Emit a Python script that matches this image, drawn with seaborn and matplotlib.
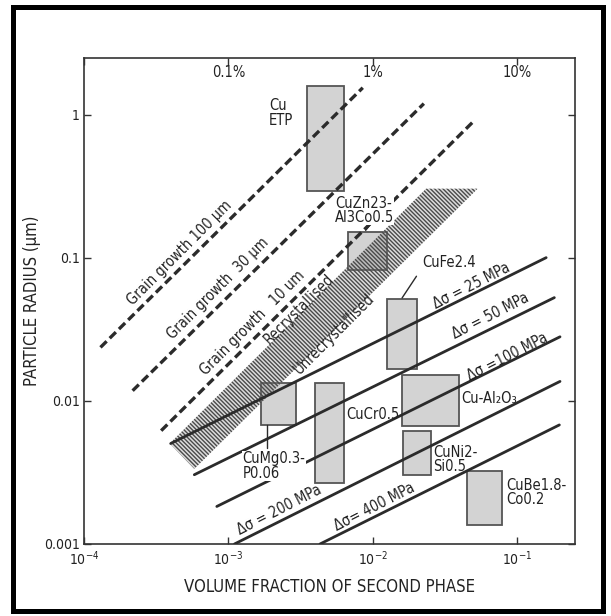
import matplotlib
matplotlib.use("Agg")
import matplotlib.pyplot as plt
from matplotlib.patches import Rectangle, Polygon
import pandas as pd
import seaborn as sns

# Orowan strengthening lines: stress increment (MPa) and line end points (f, r)
stress_mpa = [25, 50, 100, 200, 400]
stress_f0 = [3.98e-4, 5.8e-4, 8.3e-4, 1.1e-3, 4.3e-3]
stress_r0 = [0.00504, 0.00305, 0.00183, 0.001, 0.001]
stress_f1 = [0.158, 0.18, 0.197, 0.197, 0.195]
stress_r1 = [0.1005, 0.0528, 0.0281, 0.0137, 0.0068]

# Zener-type grain growth limits (grain size in µm)
grain_um = [100, 30, 10]
grain_f0 = [1.3e-4, 2.17e-4, 3.42e-4]
grain_r0 = [0.0237, 0.0118, 0.0062]
grain_f1 = [8.5e-3, 0.0225, 0.049]
grain_r1 = [1.55, 1.2, 0.89]

# recrystallised / unrecrystallised transition band
band_f = [3.92e-4, 0.0233, 0.053, 5.8e-4]
band_r = [0.00504, 0.305, 0.305, 0.00335]

# copper alloys: ranges of volume fraction and particle radius
alloys = ["Cu\nETP", "CuZn23-\nAl3Co0.5", "CuFe2.4", "CuMg0.3-\nP0.06",
          "CuCr0.5", "Cu-Al₂O₃", "CuNi2-\nSi0.5", "CuBe1.8-\nCo0.2"]
alloy_f_lo = [3.47e-3, 6.68e-3, 0.0126, 1.67e-3, 3.96e-3, 0.016, 0.0162, 0.0448]
alloy_f_hi = [6.35e-3, 0.0126, 0.0203, 2.94e-3, 6.35e-3, 0.0396, 0.0254, 0.0783]
alloy_r_lo = [0.292, 0.0822, 0.0168, 0.00681, 0.00266, 0.00673, 0.00306, 0.00135]
alloy_r_hi = [1.6, 0.152, 0.0518, 0.0133, 0.0133, 0.0151, 0.00619, 0.00325]

x_ticks = [1e-4, 1e-3, 1e-2, 1e-1]
x_ticklabels = ["$10^{-4}$", "$10^{-3}$", "$10^{-2}$", "$10^{-1}$"]
y_ticks = [0.001, 0.01, 0.1, 1]
y_ticklabels = ["0.001", "0.01", "0.1", "1"]
pct_ticks = [1e-3, 1e-2, 1e-1]
pct_labels = ["0.1%", "1%", "10%"]

sns.set_style("ticks")
plt.rcParams["font.family"] = ["DejaVu Sans"]
plt.rcParams["font.stretch"] = "condensed"
plt.rcParams["mathtext.fontset"] = "dejavusans"
plt.rcParams["hatch.linewidth"] = 1.0

fig = plt.figure(figsize=(6.11, 6.16), dpi=100)
ax = fig.add_axes([0.1375, 0.1169, 0.8035, 0.7889])
ax.set(xscale="log", yscale="log", xlim=(1e-4, 0.25), ylim=(0.001, 2.5))

ink = "#2b2b2b"
txt = "#222222"

# alloy boxes
for fl, fh, rl, rh in zip(alloy_f_lo, alloy_f_hi, alloy_r_lo, alloy_r_hi):
    ax.add_patch(Rectangle((fl, rl), fh - fl, rh - rl, facecolor="#d3d3d3",
                           edgecolor="#555555", lw=1.3, zorder=1))

# hatched transition band
ax.add_patch(Polygon(list(zip(band_f, band_r)), closed=True,
                     facecolor=(0.55, 0.55, 0.55, 0.3), edgecolor="#4a4a4a",
                     lw=0, hatch="\\\\\\\\\\\\\\\\", zorder=2))

# grain growth limits (dashed)
grain_df = pd.DataFrame({
    "f": [v for pair in zip(grain_f0, grain_f1) for v in pair],
    "r": [v for pair in zip(grain_r0, grain_r1) for v in pair],
    "line": [g for g in grain_um for _ in range(2)],
})
sns.lineplot(data=grain_df, x="f", y="r", units="line", estimator=None,
             color=ink, lw=2.4, ax=ax, zorder=3)
for line in ax.lines:
    line.set_dashes([2.6, 1.3])

# Orowan stress lines (solid)
stress_df = pd.DataFrame({
    "f": [v for pair in zip(stress_f0, stress_f1) for v in pair],
    "r": [v for pair in zip(stress_r0, stress_r1) for v in pair],
    "line": [s for s in stress_mpa for _ in range(2)],
})
sns.lineplot(data=stress_df, x="f", y="r", units="line", estimator=None,
             color=ink, lw=2.0, ax=ax, zorder=3)

# leader lines from labels to boxes
ax.plot([0.0098, 0.0089], [0.176, 0.156], color=ink, lw=1.0, zorder=3)
ax.plot([0.0200, 0.0159], [0.0745, 0.0525], color=ink, lw=1.0, zorder=3)
ax.plot([1.86e-3, 1.86e-3], [0.00681, 0.0047], color=ink, lw=1.0, zorder=3)

# alloy labels (some sit on a white patch that interrupts the lines behind)
label_pos = [(1.9e-3, 1.03), (5.45e-3, 0.215), (0.0219, 0.0927), (1.25e-3, 0.0035),
             (6.5e-3, 0.00806), (0.0408, 0.0104), (0.0261, 0.0039), (0.0838, 0.0023)]
label_bg = [False, True, False, True, False, False, False, False]
for name, (lx, ly), bg in zip(alloys, label_pos, label_bg):
    kw = dict(bbox=dict(facecolor="white", edgecolor="none", pad=0.2)) if bg else {}
    ax.text(lx, ly, name, ha="left", va="center", fontsize=10.5, color=txt,
            linespacing=0.95, zorder=4, **kw)

# grain growth labels
grain_text = ["Grain growth 100 µm", "Grain growth  30 µm", "Grain growth   10 um"]
grain_pos = [(4.57e-4, 0.108), (8.4e-4, 0.061), (1.47e-3, 0.0351)]
for t, (lx, ly) in zip(grain_text, grain_pos):
    ax.text(lx, ly, t, rotation=45, rotation_mode="anchor", ha="center",
            va="center", fontsize=10.5, color=txt, zorder=4)

ax.text(3.06e-3, 0.0436, "Recrystallised", rotation=45, rotation_mode="anchor",
        ha="center", va="center", fontsize=10.5, color=txt, zorder=4)
ax.text(5.45e-3, 0.0296, "Unrecrystallised", rotation=45, rotation_mode="anchor",
        ha="center", va="center", fontsize=10.5, color=txt, zorder=4)

# stress labels
stress_text = ["Δσ = 25 MPa", "Δσ = 50 MPa", "Δσ =100 MPa", "Δσ = 200 MPa", "Δσ= 400 MPa"]
stress_pos = [(0.048, 0.0637), (0.0649, 0.0393), (0.0845, 0.0203),
              (2.24e-3, 0.00174), (0.0102, 0.00183)]
for t, (lx, ly) in zip(stress_text, stress_pos):
    ax.text(lx, ly, t, rotation=27, rotation_mode="anchor", ha="center",
            va="center", fontsize=10.5, color=txt, zorder=4)

# percentage scale along the top
for xv, t in zip(pct_ticks, pct_labels):
    ax.text(xv, 0.97, t, transform=ax.get_xaxis_transform(), ha="center",
            va="center", fontsize=10.5, color=txt)

ax.set_xticks(x_ticks)
ax.set_xticklabels(x_ticklabels)
ax.set_yticks(y_ticks)
ax.set_yticklabels(y_ticklabels)
ax.minorticks_off()
ax.tick_params(direction="in", length=5, width=1.0, colors="#333333",
               labelsize=10, labelcolor=txt, top=True, right=True,
               labeltop=False, labelright=False)
ax.xaxis.set_tick_params(pad=4)
ax.yaxis.set_tick_params(pad=3)
ax.set_xlabel("VOLUME FRACTION OF SECOND PHASE", fontsize=12, color=txt,
              labelpad=7)
ax.set_ylabel("PARTICLE RADIUS (µm)", fontsize=12, color=txt, labelpad=2)
for s in ax.spines.values():
    s.set_linewidth(1.2)
    s.set_color("#333333")

# outer frame around the figure
fig.patches.append(Rectangle((12.5 / 611, 1 - 611 / 616), (603 - 12.5) / 611,
                             (611 - 6.5) / 616, transform=fig.transFigure,
                             fill=False, edgecolor="black", lw=3.6))

fig.savefig("out.png", dpi=100)
